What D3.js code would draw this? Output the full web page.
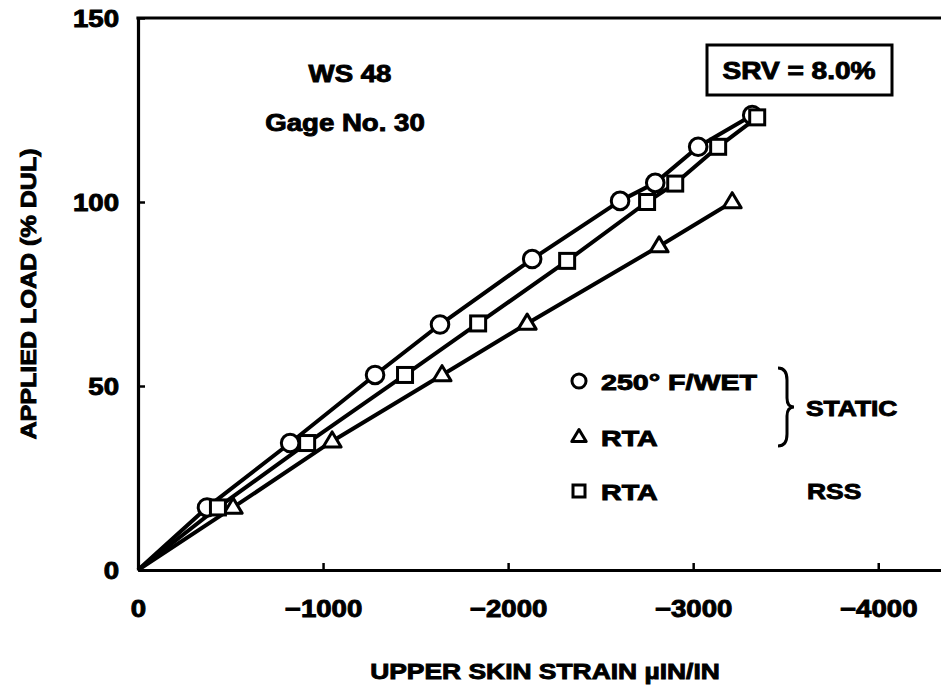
<!DOCTYPE html>
<html><head><meta charset="utf-8">
<script src="https://cdn.jsdelivr.net/npm/d3@7"></script>
<style>
html,body{margin:0;padding:0;background:#fff;}
svg{display:block;}
text{font-family:"Liberation Sans",Arial,Helvetica,sans-serif;font-weight:bold;fill:#000;}
</style></head>
<body>
<svg id="chart" width="941" height="685"></svg>
<script>
// ---- data ----
const xTicks = [0, -1000, -2000, -3000, -4000];
const xTickLabels = ["0", "\u22121000", "\u22122000", "\u22123000", "\u22124000"];
const yTicks = [0, 50, 100, 150];
const yTickLabels = ["0", "50", "100", "150"];

const wetStrain = [0, -373, -822, -1281, -1632, -2130, -2605, -2795, -3027, -3319];
const wetLoad   = [0, 17, 34.5, 53, 66.7, 84.5, 100.3, 105.2, 115, 123.6];

const rtaStaticStrain = [0, -514, -1049, -1643, -2103, -2816, -3211];
const rtaStaticLoad   = [0, 17, 35, 53, 67, 88, 100];

const rtaRssStrain = [0, -432, -914, -1443, -1838, -2319, -2751, -2903, -3135, -3346];
const rtaRssLoad   = [0, 17, 34.5, 53, 67, 84, 100, 105, 115, 123];

const legendLabels = ["250\u00b0 F/WET", "RTA", "RTA"];
const groupLabels = ["STATIC", "RSS"];

// ---- layout ----
const svg = d3.select("#chart");
const x = d3.scaleLinear().domain([0, -4350]).range([138, 943]);
const y = d3.scaleLinear().domain([0, 150]).range([570, 18]);

function stretch(sel, k) {
  sel.each(function() {
    const L = this.getComputedTextLength();
    d3.select(this).attr("textLength", L * k).attr("lengthAdjust", "spacingAndGlyphs");
  });
  return sel;
}

// axes
const xAxis = d3.axisBottom(x).tickValues(xTicks).tickSize(-7).tickSizeOuter(0)
  .tickFormat((d, i) => xTickLabels[i]);
const gx = svg.append("g").attr("transform", `translate(0,${y(0)})`).call(xAxis);
gx.select(".domain").attr("stroke", "#000").attr("stroke-width", 3.2);
gx.selectAll(".tick line").attr("stroke", "#000").attr("stroke-width", 2.5);
stretch(gx.selectAll(".tick text").attr("y", 47).attr("dy", null).attr("font-size", 23), 1.2);

const yAxis = d3.axisLeft(y).tickValues(yTicks).tickSize(-7).tickSizeOuter(0)
  .tickFormat((d, i) => yTickLabels[i]);
const gy = svg.append("g").attr("transform", `translate(${x(0)},0)`).call(yAxis);
gy.select(".domain").attr("stroke", "#000").attr("stroke-width", 3.2);
gy.selectAll(".tick line").attr("stroke", "#000").attr("stroke-width", 2.5);
stretch(gy.selectAll(".tick text").attr("x", -19).attr("dy", "0.36em").attr("font-size", 23), 1.2);

// top frame line
svg.append("line").attr("x1", x(0) - 1.6).attr("x2", x(-4350)).attr("y1", y(150)).attr("y2", y(150))
  .attr("stroke", "#000").attr("stroke-width", 3.2);

// axis titles
stretch(svg.append("text").attr("x", 545).attr("y", 679).attr("text-anchor", "middle")
  .attr("font-size", 22).text("UPPER SKIN STRAIN  \u00b5IN/IN"), 1.2);
stretch(svg.append("text").attr("transform", "translate(36,294) rotate(-90)").attr("text-anchor", "middle")
  .attr("font-size", 22).text("APPLIED LOAD (% DUL)"), 1.14);

// annotations
stretch(svg.append("text").attr("x", 350).attr("y", 82).attr("text-anchor", "middle").attr("font-size", 23).text("WS 48"), 1.2);
stretch(svg.append("text").attr("x", 345).attr("y", 131).attr("text-anchor", "middle").attr("font-size", 23).text("Gage No. 30"), 1.2);
svg.append("rect").attr("x", 707).attr("y", 45).attr("width", 185).attr("height", 50)
  .attr("fill", "none").attr("stroke", "#000").attr("stroke-width", 3);
stretch(svg.append("text").attr("x", 799).attr("y", 79).attr("text-anchor", "middle").attr("font-size", 23).text("SRV = 8.0%"), 1.22);

// series
const line = d3.line().x(d => x(d[0])).y(d => y(d[1]));
const series = [
  {s: wetStrain, l: wetLoad, sym: "circle"},
  {s: rtaStaticStrain, l: rtaStaticLoad, sym: "triangle"},
  {s: rtaRssStrain, l: rtaRssLoad, sym: "square"}
];
series.forEach(ser => {
  const pts = ser.s.map((v, i) => [v, ser.l[i]]);
  svg.append("path").datum(pts).attr("d", line).attr("fill", "none")
    .attr("stroke", "#000").attr("stroke-width", 4).attr("stroke-linejoin", "round");
});
function drawSym(g, type, cx, cy, scale) {
  const k = scale || 1;
  if (type === "circle") {
    g.append("circle").attr("cx", cx).attr("cy", cy).attr("r", 8.8 * k)
      .attr("fill", "#fff").attr("stroke", "#000").attr("stroke-width", 3);
  } else if (type === "square") {
    const s = 15 * k;
    g.append("rect").attr("x", cx - s / 2).attr("y", cy - s / 2).attr("width", s).attr("height", s)
      .attr("fill", "#fff").attr("stroke", "#000").attr("stroke-width", 3);
  } else {
    const h = 15 * k, w = 18 * k;
    g.append("path").attr("d", `M${cx},${cy - h * 0.62}L${cx + w / 2},${cy + h * 0.38}L${cx - w / 2},${cy + h * 0.38}Z`)
      .attr("fill", "#fff").attr("stroke", "#000").attr("stroke-width", 3).attr("stroke-linejoin", "round");
  }
}
const markers = svg.append("g");
series.forEach(ser => {
  ser.s.forEach((v, i) => {
    if (i === 0) return;
    drawSym(markers, ser.sym, x(v), y(ser.l[i]));
  });
});

// legend
const legY = [381, 437, 491];
const legSyms = ["circle", "triangle", "square"];
const leg = svg.append("g");
legSyms.forEach((t, i) => {
  drawSym(leg, t, 579, legY[i], 0.8);
  stretch(leg.append("text").attr("x", 601).attr("y", legY[i] + 8.5).attr("font-size", 22).text(legendLabels[i]), 1.3);
});
leg.append("path")
  .attr("d", "M778,368 Q787,368 787,380 L787,398 Q787,407 794,407 Q787,407 787,416 L787,434 Q787,446 778,446")
  .attr("fill", "none").attr("stroke", "#000").attr("stroke-width", 3);
stretch(leg.append("text").attr("x", 806).attr("y", 416).attr("font-size", 22).text(groupLabels[0]), 1.2);
stretch(leg.append("text").attr("x", 807).attr("y", 499).attr("font-size", 22).text(groupLabels[1]), 1.2);

// heavier lettering like the scanned original
svg.selectAll("text").style("stroke", "#000").style("stroke-width", 0.9);
</script>
</body></html>
